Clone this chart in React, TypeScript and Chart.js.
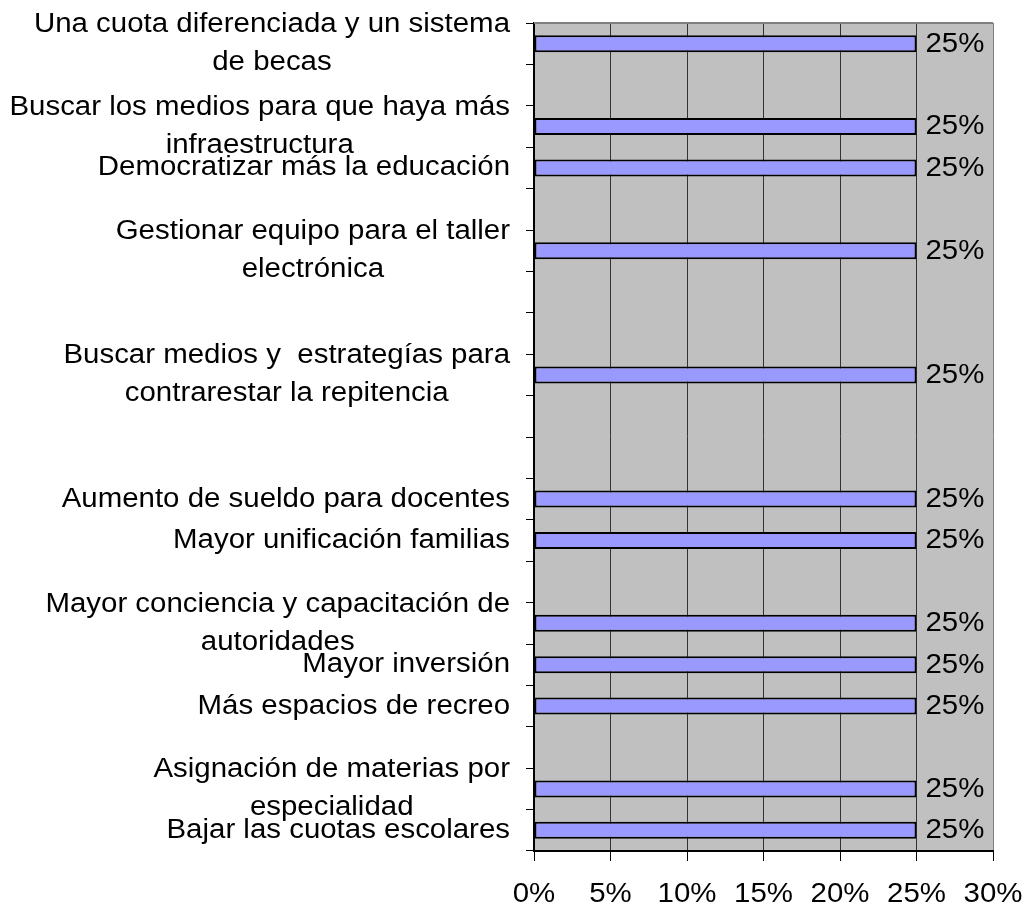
import React, { useEffect, useRef } from 'react';
import { Chart, registerables } from 'chart.js';

Chart.register(...registerables);

// Categories (top to bottom), empty slots have no label
const categories: string[][] = [
  ['Una cuota diferenciada y un sistema', 'de becas'],
  [],
  ['Buscar los medios para que haya más', 'infraestructura'],
  ['Democratizar más la educación'],
  [],
  ['Gestionar equipo para el taller', 'electrónica'],
  [],
  [],
  ['Buscar medios y  estrategías para', 'contrarestar la repitencia'],
  [],
  [],
  ['Aumento de sueldo para docentes'],
  ['Mayor unificación familias'],
  [],
  ['Mayor conciencia y capacitación de', 'autoridades'],
  ['Mayor inversión'],
  ['Más espacios de recreo'],
  [],
  ['Asignación de materias por', 'especialidad'],
  ['Bajar las cuotas escolares'],
];

const values: (number | null)[] = [
  25, null, 25, 25, null, 25, null, null, 25, null,
  null, 25, 25, null, 25, 25, 25, null, 25, 25,
];

const xMin = 0;
const xMax = 30;
const xStep = 5;

const FONT = "'Liberation Sans', Arial, sans-serif";
const FONT_SIZE = 27;
const SX = 1.09;
const LINE_H = 38;

function stretchedText(ctx: any, text: string, x: number, y: number) {
  ctx.save();
  ctx.translate(x, y);
  ctx.scale(SX, 1);
  ctx.fillText(text, 0, 0);
  ctx.restore();
}

const plotBg = {
  id: 'plotBg',
  beforeDraw(chart: any) {
    const { ctx, chartArea: a } = chart;
    ctx.save();
    ctx.fillStyle = '#C0C0C0';
    ctx.fillRect(a.left, a.top, a.right - a.left, a.bottom - a.top);
    ctx.restore();
  },
  afterDraw(chart: any) {
    const { ctx, chartArea: a } = chart;
    ctx.save();
    ctx.strokeStyle = '#808080';
    ctx.lineWidth = 2;
    ctx.beginPath();
    ctx.moveTo(a.left, a.top);
    ctx.lineTo(a.right, a.top);
    ctx.stroke();
    ctx.restore();
  },
};

const axisLabels = {
  id: 'axisLabels',
  afterDraw(chart: any) {
    const { ctx } = chart;
    const ys = chart.scales.y;
    const xs = chart.scales.x;
    ctx.save();
    ctx.font = `${FONT_SIZE}px ${FONT}`;
    ctx.fillStyle = '#000';
    ctx.textAlign = 'center';
    ctx.textBaseline = 'middle';
    // category labels: lines centred within the block, block right-aligned to the axis
    const rightEdge = ys.right - 8 - 16;
    categories.forEach((lines, i) => {
      if (!lines.length) return;
      const yc = ys.getPixelForValue(i);
      const maxW = Math.max(...lines.map((l) => ctx.measureText(l).width)) * SX;
      const cx = rightEdge - maxW / 2;
      const y0 = yc - ((lines.length - 1) * LINE_H) / 2;
      lines.forEach((l, k) => stretchedText(ctx, l, cx, y0 + k * LINE_H));
    });
    // value axis labels
    const yTick = xs.top + 44;
    xs.ticks.forEach((t: any) => {
      stretchedText(ctx, `${t.value}%`, xs.getPixelForValue(t.value), yTick);
    });
    ctx.restore();
  },
};

const dataLabels = {
  id: 'dataLabels',
  afterDatasetsDraw(chart: any) {
    const { ctx } = chart;
    const meta = chart.getDatasetMeta(0);
    ctx.save();
    ctx.font = `${FONT_SIZE}px ${FONT}`;
    ctx.fillStyle = '#000';
    ctx.textAlign = 'left';
    ctx.textBaseline = 'middle';
    meta.data.forEach((bar: any, i: number) => {
      const v = values[i];
      if (v === null || v === undefined) return;
      stretchedText(ctx, `${v}%`, bar.x + 9, bar.y + 0.5);
    });
    ctx.restore();
  },
};

export default function App() {
  const ref = useRef<HTMLCanvasElement | null>(null);

  useEffect(() => {
    if (!ref.current) return;
    const chart = new Chart(ref.current, {
      type: 'bar',
      data: {
        labels: categories.map((c) => c.join(' ')),
        datasets: [
          {
            data: values,
            backgroundColor: '#9999FF',
            borderColor: '#000000',
            borderWidth: 2,
            borderSkipped: false,
            barPercentage: 0.41,
            categoryPercentage: 1,
          },
        ],
      },
      options: {
        indexAxis: 'y',
        responsive: false,
        animation: false,
        layout: { padding: { top: 23, right: 33, left: 0, bottom: 0 } },
        plugins: {
          legend: { display: false },
          tooltip: { enabled: false },
          title: { display: false },
        },
        scales: {
          x: {
            min: xMin,
            max: xMax,
            ticks: {
              display: false,
              stepSize: xStep,
            },
            grid: {
              color: (c: any) => (c.tick && c.tick.value === xMax ? '#808080' : '#333333'),
              lineWidth: 1,
              tickLength: 10,
              tickColor: '#000',
              drawTicks: true,
            },
            border: { display: true, color: '#000', width: 2 },
            afterFit: (s: any) => {
              s.height = 54;
              s.paddingLeft = 0;
              s.paddingRight = 0;
            },
          },
          y: {
            type: 'category',
            offset: true,
            ticks: { display: false, autoSkip: false },
            grid: {
              offset: true,
              drawOnChartArea: false,
              drawTicks: true,
              tickLength: 8,
              tickColor: '#000',
              color: '#000',
              lineWidth: 1,
            },
            border: { display: true, color: '#000', width: 2 },
            afterFit: (s: any) => {
              s.width = 534;
              s.paddingTop = 0;
              s.paddingBottom = 0;
            },
          },
        },
      },
      plugins: [plotBg, axisLabels, dataLabels],
    });
    return () => chart.destroy();
  }, []);

  return (
    <div style={{ position: 'fixed', left: 0, top: 0, width: 1026, height: 905, background: '#fff' }}>
      <canvas ref={ref} width={1026} height={905} style={{ display: 'block' }} />
    </div>
  );
}
